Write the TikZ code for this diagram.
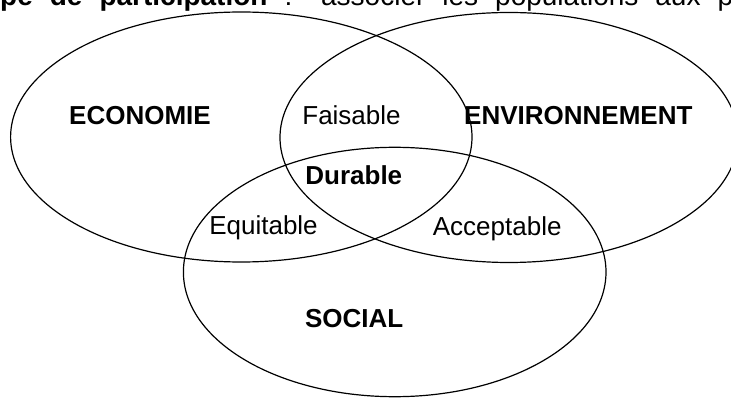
\documentclass[tikz,border=0pt]{standalone}
\usepackage{fontspec}
\setmainfont{Liberation Sans}
\usetikzlibrary{shapes.geometric}
\begin{document}
\begin{tikzpicture}[x=1pt,y=-1pt,
  setshape/.style={draw=black, line width=1.2pt, ellipse, inner sep=0pt, outer sep=0pt},
  lab/.style={anchor=base, inner sep=0pt, font=\fontsize{26}{30}\selectfont},
  blab/.style={lab, font=\fontsize{26}{30}\selectfont\bfseries}]
\useasboundingbox (0,0) rectangle (731,398);
\clip (0,0) rectangle (731,398);
\fill[white] (0,0) rectangle (731,398);
% top line of text (cut by the top edge)
\node[anchor=base west, inner sep=0pt, font=\fontsize{28}{32}\selectfont] (title) at (0,6)
  {\makebox[733pt][s]{\bfseries pe de participation\mdseries{} : associer les populations aux p}};
% the three sets
\node[setshape, minimum width=461.4pt, minimum height=250pt] (eco) at (241.3,137) {};
\node[setshape, minimum width=458pt, minimum height=250pt] (env) at (509,137.5) {};
\node[setshape, minimum width=422.6pt, minimum height=249.4pt] (soc) at (394.7,272) {};
% labels
\node[blab] (economie) at (140,125) {ECONOMIE};
\node[lab] (faisable) at (351.5,125) {Faisable};
\node[blab] (environnement) at (578.3,125) {ENVIRONNEMENT};
\node[blab] (durable) at (353.8,185) {Durable};
\node[lab] (equitable) at (263.5,235) {Equitable};
\node[lab] (acceptable) at (497.2,235.5) {Acceptable};
\node[blab] (social) at (354.2,327) {SOCIAL};
\end{tikzpicture}
\end{document}
